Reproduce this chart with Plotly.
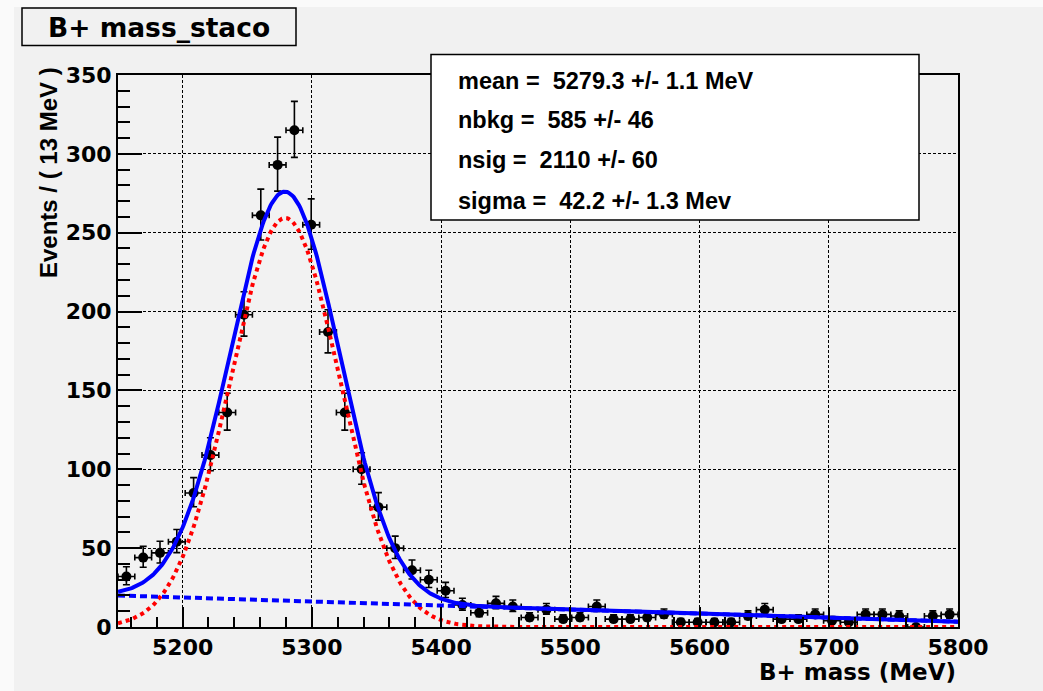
import numpy as np
import plotly.graph_objects as go

# ---------------- data ----------------
x_low, x_high = 5150.0, 5800.0
bin_width = 13.0
bin_centers = list(np.arange(x_low + bin_width / 2, x_high, bin_width))
counts = [32, 44, 47, 54, 85, 109, 136, 198, 261, 293,
          315, 255, 187, 136, 100, 76, 50, 36, 30, 23,
          14, 9, 15, 13, 6, 11, 5, 6, 13, 5,
          5, 6, 8, 3, 3, 3, 3, 7, 11, 5,
          5, 8, 4, 3, 8, 8, 7, 0, 7, 8]

# fit results (from the stats box) and background level read at the low edge
fit_mean = 5279.3
fit_sigma = 42.2
fit_nsig = 2110.0
fit_nbkg = 585.0
bkg_at_low_edge = 20.0  # events / 13 MeV at 5150 MeV

stats_lines = ["mean =  5279.3 +/- 1.1 MeV",
               "nbkg =  585 +/- 46",
               "nsig =  2110 +/- 60",
               "sigma =  42.2 +/- 1.3 Mev"]
title_text = "B+ mass_staco"
x_title = "B+ mass (MeV)"
y_title = "Events / ( 13 MeV )"

# ---------------- derived ----------------
n = np.array(counts, dtype=float)
err_hi = np.sqrt(n + 0.25) + 0.5
err_lo = np.sqrt(n + 0.25) - 0.5

xf = np.linspace(x_low, x_high, 651)
sig_curve = fit_nsig * bin_width / (np.sqrt(2 * np.pi) * fit_sigma) * np.exp(-0.5 * ((xf - fit_mean) / fit_sigma) ** 2)
bkg_mean = fit_nbkg * bin_width / (x_high - x_low)
bkg_at_high_edge = 2 * bkg_mean - bkg_at_low_edge
bkg_curve = bkg_at_low_edge + (bkg_at_high_edge - bkg_at_low_edge) * (xf - x_low) / (x_high - x_low)
tot_curve = sig_curve + bkg_curve

# ---------------- figure ----------------
W, H = 1043, 691
L, R, T, B = 118, 85, 75, 64
PW, PH = W - L - R, H - T - B

def px(xp):
    return (xp - L) / PW

def py(yp):
    return (H - B - yp) / PH

fig = go.Figure()

fig.add_trace(go.Scatter(
    x=bin_centers, y=counts, mode="markers",
    marker=dict(color="black", size=10),
    error_y=dict(type="data", symmetric=False, array=err_hi, arrayminus=err_lo,
                 color="black", thickness=1.6, width=3.5),
    error_x=dict(type="constant", value=bin_width / 2, color="black", thickness=1.6, width=3),
    showlegend=False, cliponaxis=True))

fig.add_trace(go.Scatter(x=xf, y=tot_curve, mode="lines",
                         line=dict(color="#0000ff", width=4), showlegend=False))
fig.add_trace(go.Scatter(x=xf, y=sig_curve, mode="lines",
                         line=dict(color="#ff0000", width=4, dash="dot"), showlegend=False))
fig.add_trace(go.Scatter(x=xf, y=bkg_curve, mode="lines",
                         line=dict(color="#0000ff", width=4, dash="7px,4px"), showlegend=False))

tickfont = dict(family="DejaVu Sans", size=22, color="black", weight="bold")

fig.update_xaxes(range=[x_low, x_high], tick0=5000, dtick=100,
                 ticks="inside", ticklen=20, tickwidth=1.5, tickcolor="black",
                 showline=True, linecolor="black", linewidth=2, mirror=True,
                 showgrid=True, gridcolor="black", gridwidth=1, griddash="3px,2px",
                 zeroline=False, tickfont=tickfont,
                 minor=dict(dtick=20, ticks="inside", ticklen=10, tickwidth=1.5,
                            tickcolor="black", showgrid=False))
fig.update_yaxes(range=[0, 350], tick0=0, dtick=50,
                 ticks="inside", ticklen=24, tickwidth=1.5, tickcolor="black",
                 showline=True, linecolor="black", linewidth=2, mirror=True,
                 showgrid=True, gridcolor="black", gridwidth=1, griddash="3px,2px",
                 zeroline=False, tickfont=tickfont,
                 minor=dict(dtick=10, ticks="inside", ticklen=12, tickwidth=1.5,
                            tickcolor="black", showgrid=False))

shapes = [
    # lighter outer strips
    dict(type="rect", xref="paper", yref="paper", x0=px(0), x1=px(14), y0=py(H), y1=py(0),
         fillcolor="#fafafa", line=dict(width=0), layer="below"),
    dict(type="rect", xref="paper", yref="paper", x0=px(0), x1=px(W), y0=py(7), y1=py(0),
         fillcolor="#fafafa", line=dict(width=0), layer="below"),
    # title box
    dict(type="rect", xref="paper", yref="paper", x0=px(22), x1=px(296), y0=py(45.5), y1=py(8),
         fillcolor="#f1f1f1", line=dict(color="black", width=1.5)),
    # stats box
    dict(type="rect", xref="paper", yref="paper", x0=px(431), x1=px(919), y0=py(220), y1=py(54.5),
         fillcolor="white", line=dict(color="black", width=1.5)),
]

annotations = [
    dict(text=title_text, xref="paper", yref="paper", x=px(159), y=py(27),
         xanchor="center", yanchor="middle", showarrow=False,
         font=dict(family="DejaVu Sans", size=26.5, color="black", weight="bold")),
    dict(text=x_title, xref="paper", yref="paper", x=px(958), y=py(672),
         xanchor="right", yanchor="middle", showarrow=False,
         font=dict(family="DejaVu Sans", size=23, color="black", weight="bold")),
    dict(text=y_title, xref="paper", yref="paper", x=px(48.5), y=py(65),
         xanchor="center", yanchor="top", showarrow=False, textangle=-90,
         font=dict(family="Liberation Sans", size=24, color="black", weight="bold")),
]
stat_y = [81, 120.5, 160, 201]
for line, yc in zip(stats_lines, stat_y):
    annotations.append(dict(text=line, xref="paper", yref="paper", x=px(456), y=py(yc),
                            xanchor="left", yanchor="middle", showarrow=False,
                            font=dict(family="Liberation Sans", size=23.5, color="black",
                                      weight="bold")))

fig.update_layout(
    width=W, height=H,
    margin=dict(l=L, r=R, t=T, b=B, pad=0),
    paper_bgcolor="#f1f1f1", plot_bgcolor="#f2f2f2",
    shapes=shapes, annotations=annotations,
    showlegend=False,
)

fig.write_html("out.html", config={"displayModeBar": False},
               post_script="document.body.style.margin='0';")
